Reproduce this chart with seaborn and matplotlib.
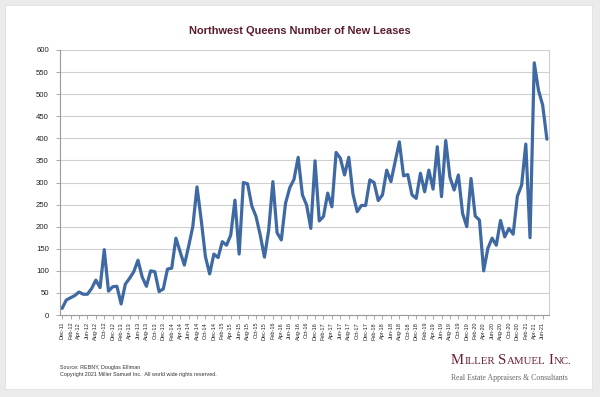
import numpy as np
import pandas as pd
import matplotlib
matplotlib.use('Agg')
import matplotlib.pyplot as plt
from matplotlib.patches import Rectangle
import seaborn as sns

# monthly new leases, Dec-11 .. Jul-21
months = pd.date_range('2011-12-01', '2021-07-01', freq='MS')
leases = (
    [15]
    + [34, 39, 44, 52, 47, 47, 60, 79, 62, 148, 54, 64]            # 2012
    + [65, 25, 70, 83, 98, 124, 86, 65, 100, 98, 53, 59]           # 2013
    + [104, 106, 174, 143, 113, 155, 200, 290, 215, 132, 93, 138]  # 2014
    + [130, 166, 158, 181, 260, 138, 300, 297, 247, 223, 181, 131] # 2015
    + [192, 302, 186, 170, 253, 288, 307, 357, 272, 249, 196, 349] # 2016
    + [213, 223, 276, 245, 368, 355, 317, 357, 274, 234, 248, 248] # 2017
    + [306, 300, 259, 272, 328, 302, 347, 392, 315, 318, 272, 264] # 2018
    + [321, 279, 328, 285, 381, 268, 395, 312, 283, 317, 230, 200] # 2019
    + [309, 224, 215, 100, 151, 174, 158, 214, 177, 196, 183, 269] # 2020
    + [294, 387, 175, 571, 509, 475, 398]                          # 2021
)
month_labels = [m.strftime('%b-%y') for m in months]
y_ticks = list(range(0, 601, 50))

df = pd.DataFrame({'pos': np.arange(len(months)), 'leases': leases})

sns.set_theme(style='white')
plt.rcParams['font.family'] = ['Liberation Sans', 'DejaVu Sans']

W, H = 600, 397
fig = plt.figure(figsize=(6, 3.97), dpi=100)
fig.patch.set_facecolor('#ebebeb')
fig.patches.append(Rectangle((5 / W, 1 - 389 / H), 587 / W, 384 / H,
                             transform=fig.transFigure, facecolor='white',
                             edgecolor='#e0e0e0', lw=0.6, zorder=-5))

ax = fig.add_axes([60 / W, 1 - 315 / H, 489 / W, 265 / H])
ax.set_facecolor('none')
sns.lineplot(data=df, x='pos', y='leases', color='#3e69a3', linewidth=2.3, ax=ax)

ax.set_xlim(-0.5, len(months) - 0.5)
ax.set_ylim(0, 600)
ax.set_yticks(y_ticks)
ax.set_yticklabels([str(v) for v in y_ticks], fontsize=5.6, color='#222222')
ax.set_xticks(df['pos'][::2])
ax.set_xticklabels(month_labels[::2], rotation=90, fontsize=4.0, color='#222222')
ax.set_xlabel('')
ax.set_ylabel('')
ax.grid(axis='y', color='#cfcfcf', lw=0.8)
ax.set_axisbelow(True)
for side in ['left', 'bottom']:
    ax.spines[side].set_color('#9a9a9a')
    ax.spines[side].set_linewidth(0.8)
ax.spines['right'].set_color('#d0d0d0')
ax.spines['right'].set_linewidth(0.8)
ax.spines['top'].set_visible(False)
ax.tick_params(axis='both', which='major', length=3, width=0.6, color='#9a9a9a',
               pad=2, left=True, bottom=True)
ax.tick_params(axis='y', pad=5)

fig.text(300 / W, 1 - 31 / H, 'Northwest Queens Number of New Leases',
         ha='center', va='center', fontsize=7.9, fontweight='bold', color='#5a1d2c')

fig.text(60 / W, 1 - 369 / H, 'Source: REBNY, Douglas Elliman',
         fontsize=3.9, color='#333333', va='baseline')
fig.text(60 / W, 1 - 376 / H,
         'Copyright 2021 Miller Samuel Inc.  All world wide rights reserved.',
         fontsize=3.9, color='#333333', va='baseline')

# small-caps logo built from pieces
renderer = fig.canvas.get_renderer()
x = 451 / W
base = 1 - 364 / H
pieces = [('M', 10.6), ('ILLER', 7.8), (' ', 7.8), ('S', 10.6), ('AMUEL', 7.8),
          (' ', 7.8), ('I', 10.6), ('NC.', 7.8)]
for s, size in pieces:
    if s == ' ':
        x += 3.0 / W
        continue
    t = fig.text(x, base, s, fontsize=size, family='Liberation Serif',
                 color='#6b2030', va='baseline')
    x = t.get_window_extent(renderer).x1 / W + 0.2 / W

fig.text(568 / W, 1 - 380 / H, 'Real Estate Appraisers & Consultants',
         ha='right', va='baseline', fontsize=5.6, family='Liberation Serif',
         color='#666666')

fig.savefig('out.png', dpi=100, facecolor=fig.get_facecolor())
